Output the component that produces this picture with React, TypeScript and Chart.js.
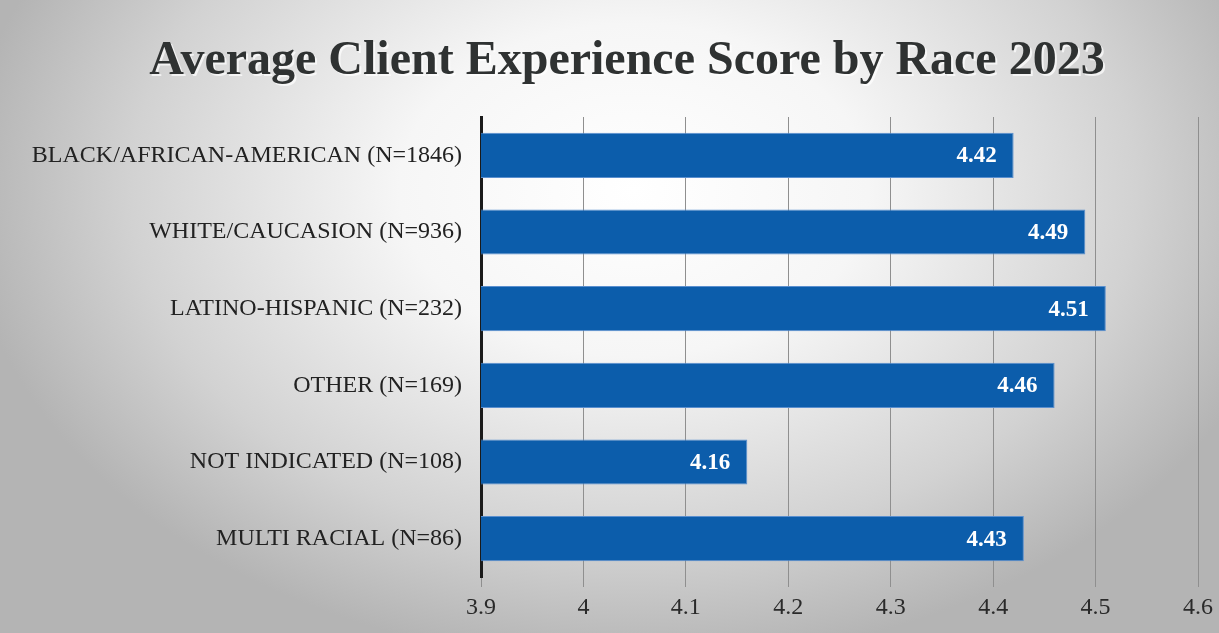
import React, { useEffect, useRef } from "react";
import { Chart, registerables } from "chart.js";

Chart.register(...registerables);

const categories = [
  "BLACK/AFRICAN-AMERICAN (N=1846)",
  "WHITE/CAUCASION (N=936)",
  "LATINO-HISPANIC (N=232)",
  "OTHER (N=169)",
  "NOT INDICATED (N=108)",
  "MULTI RACIAL (N=86)",
];
const scores = [4.42, 4.49, 4.51, 4.46, 4.16, 4.43];
const xMin = 3.9;
const xMax = 4.6;
const xStep = 0.1;
const titleText = "Average Client Experience Score by Race 2023";

const SERIF = "'Liberation Serif', 'Times New Roman', serif";

const valueLabels = {
  id: "valueLabels",
  afterDatasetsDraw(chart: any) {
    const ctx = chart.ctx;
    const meta = chart.getDatasetMeta(0);
    ctx.save();
    ctx.font = `bold 23px ${SERIF}`;
    ctx.fillStyle = "#ffffff";
    ctx.textAlign = "right";
    ctx.textBaseline = "middle";
    meta.data.forEach((bar: any, i: number) => {
      ctx.fillText(scores[i].toFixed(2), bar.x - 17, bar.y + 1);
    });
    ctx.restore();
  },
};

const titleDraw = {
  id: "titleDraw",
  afterDraw(chart: any) {
    const ctx = chart.ctx;
    ctx.save();
    ctx.font = `bold 48px ${SERIF}`;
    ctx.textAlign = "center";
    ctx.textBaseline = "middle";
    ctx.fillStyle = "rgba(255,255,255,0.7)";
    ctx.fillText(titleText, 629, 64);
    ctx.fillStyle = "#2f3232";
    ctx.fillText(titleText, 627, 62);
    ctx.restore();
  },
};

export default function App() {
  const ref = useRef<HTMLCanvasElement>(null);
  useEffect(() => {
    document.body.style.margin = "0";
    const chart = new Chart(ref.current!, {
      type: "bar",
      data: {
        labels: categories,
        datasets: [
          {
            data: scores,
            backgroundColor: "#0c5dab",
            borderColor: "#5a8fcf",
            borderWidth: 1,
            barPercentage: 0.59,
            categoryPercentage: 1,
          },
        ],
      },
      options: {
        indexAxis: "y",
        animation: false,
        responsive: false,
        maintainAspectRatio: false,
        layout: { padding: { left: 0, right: 19, top: 117, bottom: 0 } },
        plugins: {
          legend: { display: false },
          tooltip: { enabled: false },
          title: { display: false },
        },
        scales: {
          x: {
            min: xMin,
            max: xMax,
            ticks: {
              stepSize: xStep,
              color: "#2a2a2a",
              font: { family: SERIF, size: 24 },
              padding: 6,
              callback: (v: any) => String(Math.round(Number(v) * 10) / 10),
            },
            grid: {
              color: "#8f8f8f",
              lineWidth: 1,
              tickLength: 10,
              drawTicks: true,
            },
            border: { display: false },
            afterFit: (s: any) => {
              s.height = 56;
            },
          },
          y: {
            ticks: {
              color: "#222222",
              font: { family: SERIF, size: 24 },
              padding: 11,
            },
            grid: { display: false },
            border: { display: true, color: "#1a1a1a", width: 3 },
            afterFit: (s: any) => {
              s.width = 481;
            },
          },
        },
      },
      plugins: [valueLabels, titleDraw],
    });
    return () => chart.destroy();
  }, []);
  return (
    <div
      style={{
        position: "fixed",
        left: 0,
        top: 0,
        width: 1219,
        height: 633,
        background:
          "radial-gradient(ellipse 55% 75% at 52% 30%, #ffffff 0%, #f6f6f6 35%, #d2d2d2 75%, #b4b4b4 100%)",
      }}
    >
      <canvas ref={ref} width={1219} height={633} style={{ display: "block" }} />
    </div>
  );
}
